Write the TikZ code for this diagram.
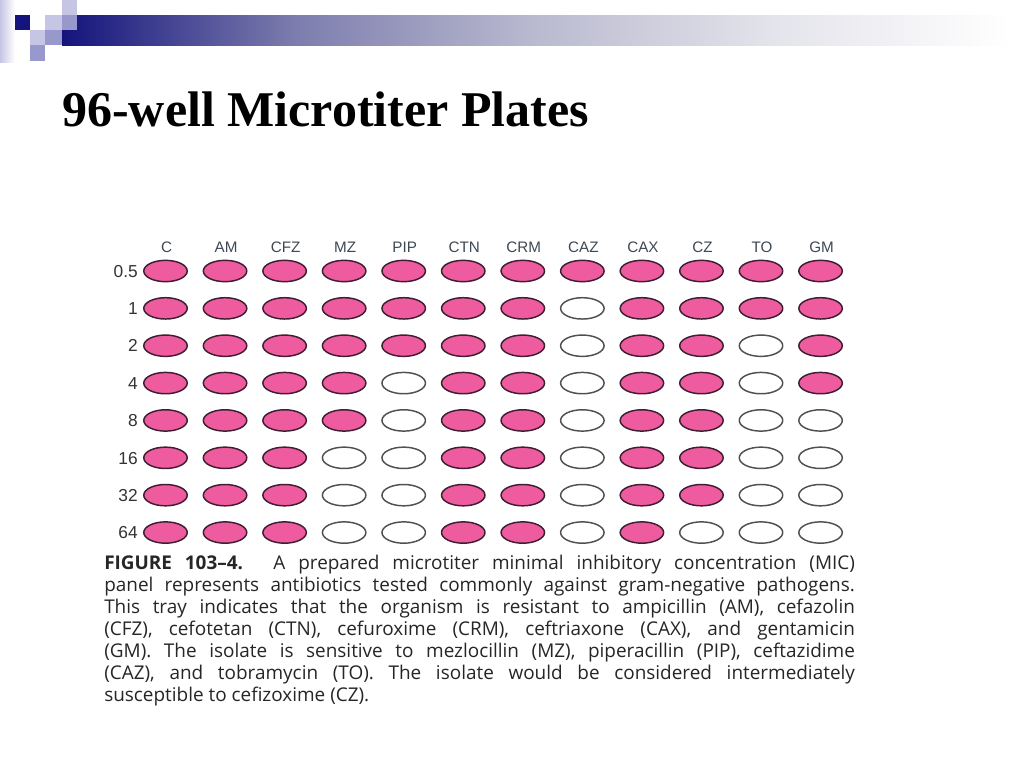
\documentclass[tikz,border=0pt]{standalone}
\usepackage{fontspec}
\setmainfont{Liberation Serif}
\setsansfont{Liberation Sans}
\newfontfamily\capfont{Open Sans}
\usetikzlibrary{shapes.geometric}
\definecolor{navy}{HTML}{14147C}
\definecolor{lav}{HTML}{C6C6E4}
\definecolor{midlav}{HTML}{9898CC}
\definecolor{wellpink}{HTML}{EE5C9F}
\definecolor{pinkedge}{HTML}{3E1E30}
\definecolor{emptyedge}{HTML}{505050}
\definecolor{hdrcol}{HTML}{3E4852}
\definecolor{lblcol}{HTML}{333333}
\definecolor{captext}{HTML}{262626}
\pgfdeclarehorizontalshading{barshade}{100bp}{color(0bp)=(navy); color(25bp)=(navy); color(37.5bp)=(navy!55!white!85!gray); color(50bp)=(navy!25!white!85!gray); color(62.5bp)=(navy!8!white!92!gray); color(75bp)=(white); color(100bp)=(white)}
\pgfdeclarehorizontalshading{stripshade}{100bp}{color(0bp)=(lav); color(25bp)=(lav); color(75bp)=(white); color(100bp)=(white)}
\def\wellpat{{1,1,1,1,1,1,1,1,1,1,1,1,
1,1,1,1,1,1,1,0,1,1,1,1,
1,1,1,1,1,1,1,0,1,1,0,1,
1,1,1,1,0,1,1,0,1,1,0,1,
1,1,1,1,0,1,1,0,1,1,0,0,
1,1,1,0,0,1,1,0,1,1,0,0,
1,1,1,0,0,1,1,0,1,1,0,0,
1,1,1,0,0,1,1,0,1,0,0,0}}
\begin{document}
\begin{tikzpicture}[x=0.75pt,y=-0.75pt,
  well/.style={ellipse, minimum width=32.6pt, minimum height=16pt, inner sep=0pt, line width=1.1pt},
  pinkwell/.style={well, fill=wellpink, draw=pinkedge},
  emptywell/.style={well, fill=white, draw=emptyedge},
  hdr/.style={anchor=base, inner sep=0pt, text=hdrcol, font=\sffamily\fontsize{11.4}{13}\selectfont},
  rowlbl/.style={anchor=base east, inner sep=0pt, text=lblcol, font=\sffamily\fontsize{13}{14}\selectfont},
  sq/.style={inner sep=0pt, draw=none}]
\useasboundingbox (0,0) rectangle (1024,768);
\fill[white] (0,0) rectangle (1024,768);
% decoration
\shade[shading=stripshade] (0,0) rectangle (15,62);
\shade[shading=barshade] (62,15) rectangle (1010,45);
\fill[navy] (15,15) rectangle (30,30);
\fill[lav] (45,15) rectangle (62,30);
\fill[lav] (62,0) rectangle (77,15);
\fill[midlav] (62,15) rectangle (77,30);
\fill[lav] (30,30) rectangle (45,45);
\fill[midlav] (45,30) rectangle (62,45);
\fill[midlav] (30,45) rectangle (45,61);
% title
\node[anchor=base west, inner sep=0pt, font=\bfseries\fontsize{37.5}{40}\selectfont] (title) at (62,126) {96-well Microtiter Plates};
% headers
\foreach \nm [count=\i from 0] in {C,AM,CFZ,MZ,PIP,CTN,CRM,CAZ,CAX,CZ,TO,GM}
  \node[hdr] (h\i) at ({166.5+59.55*\i},252.5) {\nm};
% row labels and wells
\foreach \lb [count=\j from 0] in {0.5,1,2,4,8,16,32,64}{
  \node[rowlbl] (r\j) at (138,{271+37.36*\j+6.2}) {\lb};
  \foreach \i in {0,...,11}{
    \pgfmathtruncatemacro{\v}{\wellpat[\j*12+\i]}
    \ifnum\v=1
      \node[pinkwell] (w\i-\j) at ({165.5+59.55*\i},{271+37.36*\j}) {};
    \else
      \node[emptywell] (w\i-\j) at ({165.5+59.55*\i},{271+37.36*\j}) {};
    \fi
  }
}
% caption
\node[anchor=north west, inner sep=0pt, align=left, text=captext, font=\capfont\fontsize{14.2}{16.5}\selectfont] (cap) at (104,555) {%
\makebox[563pt][s]{\textbf{FIGURE 103–4.} A prepared microtiter minimal inhibitory concentration (MIC)}\\
\makebox[563pt][s]{panel represents antibiotics tested commonly against gram-negative pathogens.}\\
\makebox[563pt][s]{This tray indicates that the organism is resistant to ampicillin (AM), cefazolin}\\
\makebox[563pt][s]{(CFZ), cefotetan (CTN), cefuroxime (CRM), ceftriaxone (CAX), and gentamicin}\\
\makebox[563pt][s]{(GM). The isolate is sensitive to mezlocillin (MZ), piperacillin (PIP), ceftazidime}\\
\makebox[563pt][s]{(CAZ), and tobramycin (TO). The isolate would be considered intermediately}\\
susceptible to cefizoxime (CZ).};
\end{tikzpicture}
\end{document}
